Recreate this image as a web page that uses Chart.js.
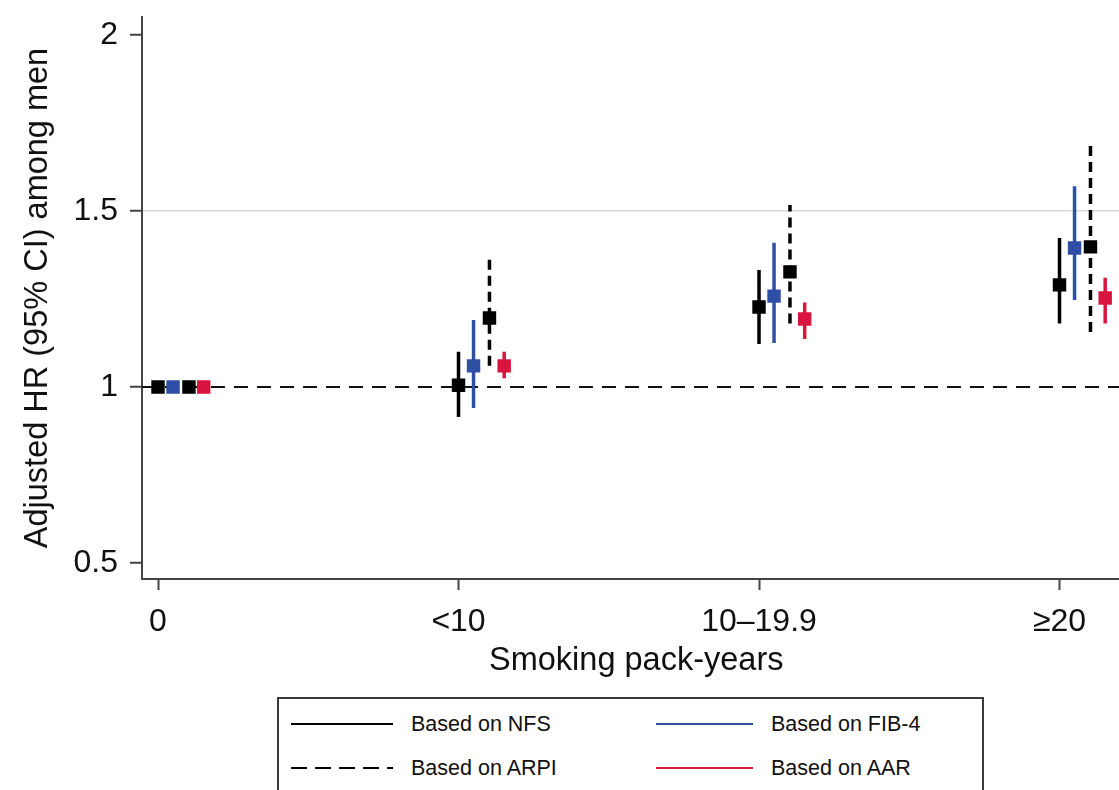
<!DOCTYPE html>
<html>
<head>
<meta charset="utf-8">
<script src="https://cdn.jsdelivr.net/npm/chart.js@4.4.1/dist/chart.umd.min.js"></script>
<style>
  html, body { margin: 0; padding: 0; background: #fff; }
  #wrap { position: relative; width: 1119px; height: 790px; overflow: hidden; font-family: 'Liberation Sans', Arial, sans-serif; }
  #c { position: absolute; left: 0; top: 0; }
  #legend { position: absolute; left: 277px; top: 697px; width: 707px; height: 140px; border: 2px solid #3a3a3a; box-sizing: border-box; background: #fff; }
  .item { position: absolute; height: 30px; display: flex; align-items: center; font-size: 21.5px; color: #111; white-space: nowrap; }
  .item svg { display: block; margin-right: 18px; }
</style>
</head>
<body>
<div id="wrap">
  <canvas id="c" width="1140" height="790"></canvas>
  <div id="legend"></div>
</div>
<script>
// ---------- data ----------
const categories = ['0', '<10', '10\u201319.9', '\u226520'];
const catPos = [0, 1, 2, 3];
const yTickValues = [0.5, 1, 1.5, 2];
const yTickLabels = ['0.5', '1', '1.5', '2'];
const seriesNames = ['Based on NFS', 'Based on FIB-4', 'Based on ARPI', 'Based on AAR'];

const nfsHR  = [1, 1.005, 1.227, 1.290];
const nfsLo  = [null, 0.915, 1.122, 1.180];
const nfsHi  = [null, 1.100, 1.332, 1.423];

const fibHR  = [1, 1.060, 1.258, 1.395];
const fibLo  = [null, 0.940, 1.125, 1.247];
const fibHi  = [null, 1.190, 1.410, 1.570];

const arpiHR = [1, 1.196, 1.327, 1.398];
const arpiLo = [null, 1.060, 1.180, 1.156];
const arpiHi = [null, 1.370, 1.517, 1.690];

const aarHR  = [1, 1.060, 1.193, 1.253];
const aarLo  = [null, 1.025, 1.136, 1.180];
const aarHi  = [null, 1.100, 1.240, 1.310];

const refValue = 1;

// ---------- styles ----------
const XMIN = -0.0533, YMIN = 0.4545, YMAX = 2.051;
const X_PX_PER_UNIT = 300.5;   // horizontal scale density of the reference
const BLUE = '#2f4ea6', RED = '#d8143f', BLACK = '#000000';
const series = [
  { name: seriesNames[0], hr: nfsHR,  lo: nfsLo,  hi: nfsHi,  color: BLACK, dash: [],      dodge: 0.0 },
  { name: seriesNames[1], hr: fibHR,  lo: fibLo,  hi: fibHi,  color: BLUE,  dash: [],      dodge: 0.05 },
  { name: seriesNames[2], hr: arpiHR, lo: arpiLo, hi: arpiHi, color: BLACK, dash: [10, 6], dodge: 0.103 },
  { name: seriesNames[3], hr: aarHR,  lo: aarLo,  hi: aarHi,  color: RED,   dash: [],      dodge: 0.152 }
];

const datasets = [];
// reference line (clipped to the chart area)
datasets.push({
  type: 'line', data: [{ x: XMIN, y: refValue }, { x: 10, y: refValue }],
  borderColor: '#111', borderWidth: 2, borderDash: [14, 9], pointRadius: 0, order: 3
});
// CI bars
series.forEach(s => {
  catPos.forEach((c, i) => {
    if (s.lo[i] == null) return;
    datasets.push({
      type: 'line', data: [{ x: c + s.dodge, y: s.lo[i] }, { x: c + s.dodge, y: s.hi[i] }],
      borderColor: s.color, borderWidth: 3.5, borderDash: s.dash, borderCapStyle: 'butt',
      pointRadius: 0, order: 2
    });
  });
});
// point estimates
series.forEach(s => {
  datasets.push({
    type: 'scatter', label: s.name,
    data: catPos.map((c, i) => ({ x: c + s.dodge, y: s.hr[i] })),
    pointStyle: 'rect', pointRadius: 9.5, pointBackgroundColor: s.color,
    pointBorderColor: s.color, pointBorderWidth: 0, order: 1
  });
});

Chart.defaults.font.family = "'Liberation Sans', Arial, sans-serif";
Chart.defaults.color = '#111';

const chart = new Chart(document.getElementById('c'), {
  type: 'scatter',
  data: { datasets },
  options: {
    responsive: false, animation: false, devicePixelRatio: 1,
    layout: { padding: { top: 17, left: 0, right: 0, bottom: 109.5 } },
    plugins: { legend: { display: false }, tooltip: { enabled: false } },
    scales: {
      x: {
        type: 'linear', min: XMIN, max: 3.25,
        afterFit: s => { s.height = 101.5; s.paddingLeft = 0; s.paddingRight = 0; },
        afterBuildTicks: s => { s.ticks = catPos.map(v => ({ value: v })); },
        ticks: {
          autoSkip: false, maxRotation: 0, padding: 13,
          font: { size: 32 }, color: '#111',
          callback: v => categories[catPos.indexOf(v)]
        },
        grid: { drawOnChartArea: false, drawTicks: true, tickLength: 11, tickColor: '#444', tickWidth: 2 },
        border: { display: true, color: '#444', width: 2 },
        title: { display: true, text: 'Smoking pack-years', font: { size: 32.5 }, color: '#111', padding: 0 }
      },
      y: {
        type: 'linear', min: YMIN, max: YMAX,
        afterFit: s => { s.width = 142; s.paddingTop = 0; s.paddingBottom = 0; },
        afterBuildTicks: s => { s.ticks = yTickValues.map(v => ({ value: v })); },
        ticks: {
          padding: 12, font: { size: 32 }, color: '#111',
          callback: v => yTickLabels[yTickValues.indexOf(v)]
        },
        grid: {
          drawOnChartArea: true, drawTicks: true, tickLength: 12, tickColor: '#444', tickWidth: 2, lineWidth: 1.5,
          color: ctx => (ctx.tick && ctx.tick.value === 1.5) ? '#d9d9d9' : 'rgba(0,0,0,0)'
        },
        border: { display: true, color: '#444', width: 2 },
        title: { display: true, text: 'Adjusted HR (95% CI) among men', font: { size: 32.5 }, color: '#111', padding: { top: 18.5, bottom: 0 } }
      }
    }
  }
});
// match the horizontal density of the reference: the axis runs past the right edge
const ca = chart.chartArea;
chart.options.scales.x.max = XMIN + (ca.right - ca.left) / X_PX_PER_UNIT;
chart.update();

// ---------- legend (HTML) ----------
const legendLayout = [
  { idx: 0, left: 12, top: 10, w: 102 },
  { idx: 1, left: 377, top: 10, w: 97 },
  { idx: 2, left: 12, top: 54, w: 102 },
  { idx: 3, left: 377, top: 54, w: 97 }
];
const lg = document.getElementById('legend');
legendLayout.forEach(l => {
  const s = series[l.idx];
  const div = document.createElement('div');
  div.className = 'item';
  div.style.left = l.left + 'px';
  div.style.top = l.top + 'px';
  const dash = s.dash.length ? 'stroke-dasharray="16,8"' : '';
  div.innerHTML = '<svg width="' + l.w + '" height="4"><line x1="0" y1="2" x2="' + l.w + '" y2="2" stroke="' + s.color + '" stroke-width="2.2" ' + dash + '/></svg><span></span>';
  div.querySelector('span').textContent = s.name;
  lg.appendChild(div);
});
</script>
</body>
</html>
